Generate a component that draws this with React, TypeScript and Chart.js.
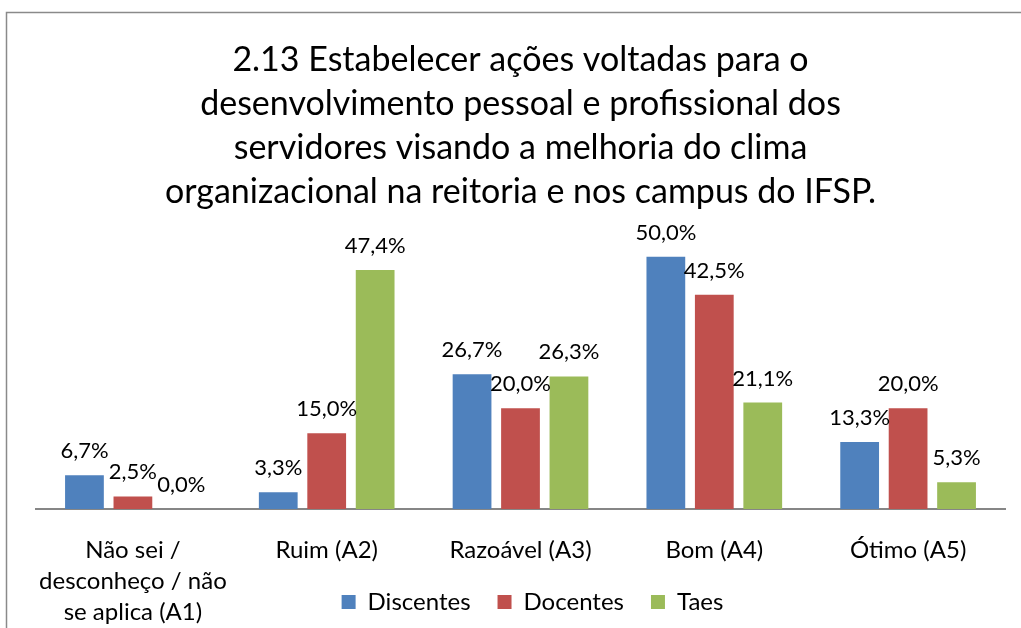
import React, { useEffect, useRef } from "react";
import { Chart, registerables } from "chart.js";

Chart.register(...registerables);

const titleLines = [
  "2.13 Estabelecer ações voltadas para o",
  "desenvolvimento pessoal e profissional dos",
  "servidores visando a melhoria do clima",
  "organizacional na reitoria e nos campus do IFSP.",
];

const categories: (string | string[])[] = [
  ["Não sei /", "desconheço / não", "se aplica (A1)"],
  "Ruim (A2)",
  "Razoável (A3)",
  "Bom (A4)",
  "Ótimo (A5)",
];

const discentes = [6.7, 3.3, 26.7, 50.0, 13.3];
const docentes = [2.5, 15.0, 20.0, 42.5, 20.0];
const taes = [0.0, 47.4, 26.3, 21.1, 5.3];

const FONT = "Lato";

const frameAndLabels = {
  id: "frameAndLabels",
  beforeDraw(chart: any) {
    const ctx = chart.ctx;
    ctx.save();
    ctx.fillStyle = "#ffffff";
    ctx.fillRect(0, 0, chart.width, chart.height);
    ctx.strokeStyle = "#8a8a8a";
    ctx.lineWidth = 1.5;
    ctx.beginPath();
    ctx.moveTo(6.5, chart.height + 2);
    ctx.lineTo(6.5, 12.5);
    ctx.lineTo(chart.width + 2, 12.5);
    ctx.stroke();
    ctx.restore();
  },
  afterLayout(chart: any) {
    if (chart.legend) {
      chart.legend.left += 12;
      chart.legend.right += 12;
    }
    const x = chart.scales.x;
    if (x) {
      // let the wrapped first category label run below the axis box
      x.bottom = chart.height;
    }
  },
  afterDatasetsDraw(chart: any) {
    const ctx = chart.ctx;
    ctx.save();
    ctx.font = `22px ${FONT}`;
    ctx.fillStyle = "#000000";
    ctx.textAlign = "center";
    ctx.textBaseline = "middle";
    chart.data.datasets.forEach((ds: any, i: number) => {
      const meta = chart.getDatasetMeta(i);
      meta.data.forEach((bar: any, j: number) => {
        const v = ds.data[j] as number;
        const txt = v.toFixed(1).replace(".", ",") + "%";
        ctx.fillText(txt, bar.x, bar.y - 24);
      });
    });
    ctx.restore();
  },
};

export default function App() {
  const ref = useRef<HTMLCanvasElement>(null);

  useEffect(() => {
    document.body.style.margin = "0";
    const chart = new Chart(ref.current!, {
      type: "bar",
      data: {
        labels: categories,
        datasets: [
          { label: "Discentes", data: discentes, backgroundColor: "#4F81BD" },
          { label: "Docentes", data: docentes, backgroundColor: "#C0504D" },
          { label: "Taes", data: taes, backgroundColor: "#9BBB59" },
        ],
      },
      options: {
        responsive: false,
        animation: false,
        layout: { padding: { left: 36, right: 16, top: 0, bottom: 4 } },
        datasets: {
          bar: { categoryPercentage: 0.75, barPercentage: 0.8 },
        },
        plugins: {
          title: {
            display: true,
            text: titleLines,
            color: "#000000",
            font: { family: FONT, size: 34, weight: "normal", lineHeight: 44 / 34 },
            padding: { top: 38, bottom: 0 },
          },
          legend: {
            display: true,
            position: "bottom",
            labels: {
              boxWidth: 14,
              boxHeight: 14,
              padding: 27,
              color: "#000000",
              font: { family: FONT, size: 24 },
            },
          },
          tooltip: { enabled: false },
        },
        scales: {
          x: {
            grid: { display: false },
            border: { display: true, color: "#868686", width: 2 },
            ticks: {
              color: "#000000",
              padding: 18,
              maxRotation: 0,
              autoSkip: false,
              font: { family: FONT, size: 24, lineHeight: 31 / 24 },
            },
            afterFit: (scale: any) => {
              scale.height = 54;
            },
          },
          y: {
            display: false,
            min: 0,
            max: 58.5,
          },
        },
      },
      plugins: [frameAndLabels],
    });
    return () => chart.destroy();
  }, []);

  return (
    <div style={{ width: 1021, height: 628 }}>
      <canvas ref={ref} width={1021} height={628} />
    </div>
  );
}
